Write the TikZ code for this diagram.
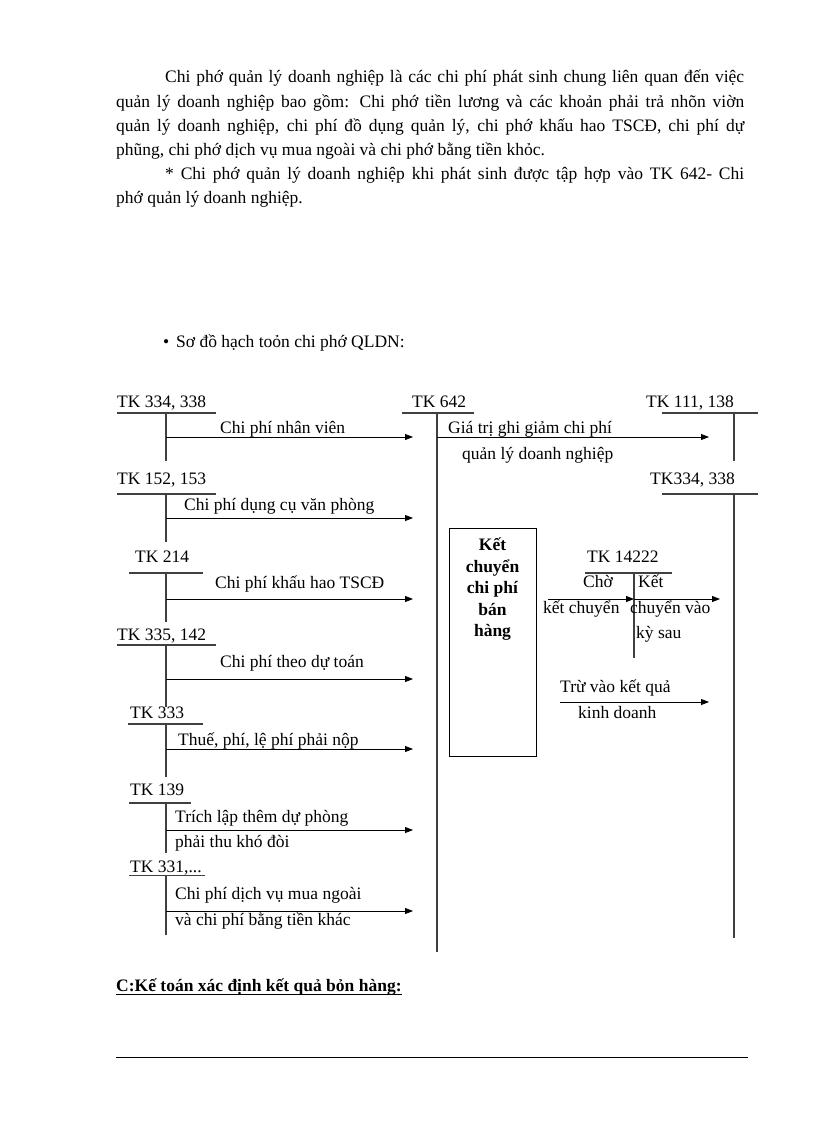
\documentclass[tikz,border=0pt]{standalone}
\usepackage{fontspec}
\setmainfont{Liberation Serif}
\usetikzlibrary{arrows.meta}
\begin{document}
\begin{tikzpicture}[x=1pt,y=-1pt,
  txt/.style={inner sep=0pt, anchor=base west, font=\fontsize{17.5}{21}\selectfont},
  bxt/.style={inner sep=0pt, anchor=base, font=\fontsize{17.5}{21}\selectfont\bfseries},
  acct/.style={line width=1.1pt, draw=black!75},
  flow/.style={line width=0.8pt, -{Triangle[length=8pt,width=6pt]}},
  rulestyle/.style={line width=0.8pt}]
\useasboundingbox (0,0) rectangle (816,1123);

% ---------- paragraph ----------
\node[txt] (p1) at (165,83) {\makebox[579pt][s]{Chi phớ quản lý doanh nghiệp là các chi phí phát sinh chung liên quan đến việc}};
\node[txt] (p2) at (116,107.5) {\makebox[628pt][s]{quản lý doanh nghiệp bao gồm: Chi phớ tiền lương và các khoản phải trả nhõn viờn}};
\node[txt] (p3) at (116,132) {\makebox[628pt][s]{quản lý doanh nghiệp, chi phí đồ dụng quản lý, chi phớ khấu hao TSCĐ, chi phí dự}};
\node[txt] (p4) at (116,156) {phũng, chi phớ dịch vụ mua ngoài và chi phớ bằng tiền khỏc.};
\node[txt] (p5) at (165,180) {\makebox[579pt][s]{* Chi phớ quản lý doanh nghiệp khi phát sinh được tập hợp vào TK 642- Chi}};
\node[txt] (p6) at (116,204) {phớ quản lý doanh nghiệp.};

\node[txt] (bul) at (163,347) {•};
\node[txt] (sd) at (176,347) {Sơ đồ hạch toỏn chi phớ QLDN:};

% ---------- TK 642 (centre account) ----------
\node[txt] (t642) at (412,407) {TK 642};
\draw[acct] (402,413) -- (474,413);
\coordinate (m642) at (437,413);
\coordinate (e642) at (437,952);
\draw[acct] (m642) -- (e642);

% ---------- left accounts ----------
\node[txt] (t334) at (117,407) {TK 334, 338};
\draw[acct] (117,413) -- (216,413);
\draw[acct] (166,413) -- (166,461);
\coordinate (a1s) at (166,437); \coordinate (a1e) at (413,437);
\draw[flow] (a1s) -- (a1e);
\node[txt] (l1) at (220,433) {Chi phí nhân viên};

\node[txt] (t152) at (117,484) {TK 152, 153};
\draw[acct] (117,494) -- (216,494);
\draw[acct] (166,494) -- (166,542);
\coordinate (a2s) at (166,518); \coordinate (a2e) at (413,518);
\draw[flow] (a2s) -- (a2e);
\node[txt] (l2) at (184,510) {Chi phí dụng cụ văn phòng};

\node[txt] (t214) at (135,562) {TK 214};
\draw[acct] (129,573) -- (203,573);
\draw[acct] (166,573) -- (166,622);
\coordinate (a3s) at (166,599); \coordinate (a3e) at (413,599);
\draw[flow] (a3s) -- (a3e);
\node[txt] (l3) at (215,588) {Chi phí khấu hao TSCĐ};

\node[txt] (t335) at (117,640) {TK 335, 142};
\draw[acct] (117,645) -- (216,645);
\draw[acct] (166,645) -- (166,707);
\coordinate (a4s) at (166,679); \coordinate (a4e) at (413,679);
\draw[flow] (a4s) -- (a4e);
\node[txt] (l4) at (220,667) {Chi phí theo dự toán};

\node[txt] (t333) at (130,718) {TK 333};
\draw[acct] (128,724) -- (203,724);
\draw[acct] (166,724) -- (166,777);
\coordinate (a5s) at (166,749); \coordinate (a5e) at (413,749);
\draw[flow] (a5s) -- (a5e);
\node[txt] (l5) at (178,745) {Thuế, phí, lệ phí phải nộp};

\node[txt] (t139) at (130,795) {TK 139};
\draw[acct] (129,803) -- (191,803);
\draw[acct] (166,803) -- (166,853);
\coordinate (a6s) at (166,830); \coordinate (a6e) at (413,830);
\draw[flow] (a6s) -- (a6e);
\node[txt] (l6a) at (175,822) {Trích lập thêm dự phòng};
\node[txt] (l6b) at (175,847) {phải thu khó đòi};

\node[txt] (t331) at (130,872) {TK 331,...};
\draw[acct] (129,875.5) -- (205,875.5);
\draw[acct] (166,876) -- (166,935);
\coordinate (a7s) at (166,911); \coordinate (a7e) at (413,911);
\draw[flow] (a7s) -- (a7e);
\node[txt] (l7a) at (175,899) {Chi phí dịch vụ mua ngoài};
\node[txt] (l7b) at (175,925) {và chi phí bằng tiền khác};

% ---------- right accounts ----------
\node[txt] (t111) at (646,407) {TK 111, 138};
\draw[acct] (662,413) -- (758,413);
\draw[acct] (734,413) -- (734,461);
\coordinate (g1s) at (437,437); \coordinate (g1e) at (709,437);
\draw[flow] (g1s) -- (g1e);
\node[txt] (gl1) at (448,433) {Giá trị ghi giảm chi phí};
\node[txt] (gl2) at (462,459) {quản lý doanh nghiệp};

\node[txt] (t334r) at (650,484) {TK334, 338};
\draw[acct] (662,494) -- (758,494);
\draw[acct] (734,494) -- (734,938);

% ---------- box ----------
\node[draw, line width=0.9pt, minimum width=87pt, minimum height=228pt, inner sep=0pt, anchor=north west] (box) at (449,528) {};
\node[bxt] (b1) at (492.5,550) {Kết};
\node[bxt] (b2) at (492.5,572) {chuyển};
\node[bxt] (b3) at (492.5,593) {chi phí};
\node[bxt] (b4) at (492.5,615) {bán};
\node[bxt] (b5) at (492.5,636) {hàng};

% ---------- TK 14222 ----------
\node[txt] (t142) at (587,562) {TK 14222};
\draw[acct] (585,573) -- (672,573);
\draw[acct] (634,573) -- (634,658);
\node[txt] (c1) at (583,587) {Chờ};
\node[txt] (c2) at (638,587) {Kết};
\coordinate (k1s) at (548,599); \coordinate (k1e) at (634,599);
\coordinate (k2e) at (720,599);
\draw[flow] (k1s) -- (k1e);
\draw[flow] (k1e) -- (k2e);
\node[txt] (c3) at (543,613) {kết chuyển};
\node[txt] (c4) at (630,613) {chuyển vào};
\node[txt] (c5) at (636,638) {kỳ sau};

\coordinate (r1s) at (560,702); \coordinate (r1e) at (709,702);
\draw[flow] (r1s) -- (r1e);
\node[txt] (r1) at (560,692) {Trừ vào kết quả};
\node[txt] (r2) at (578,718) {kinh doanh};

% ---------- heading and rule ----------
\node[txt, font=\fontsize{17.5}{21}\selectfont\bfseries] (hd) at (116,991) {C:Kế toán xác định kết quả bỏn hàng:};
\draw[rulestyle] ([yshift=-3.5pt]hd.base west) -- ([yshift=-3.5pt]hd.base east);
\coordinate (rl) at (116,1057); \coordinate (rr) at (748,1057);
\draw[rulestyle] (rl) -- (rr);
\end{tikzpicture}
\end{document}
